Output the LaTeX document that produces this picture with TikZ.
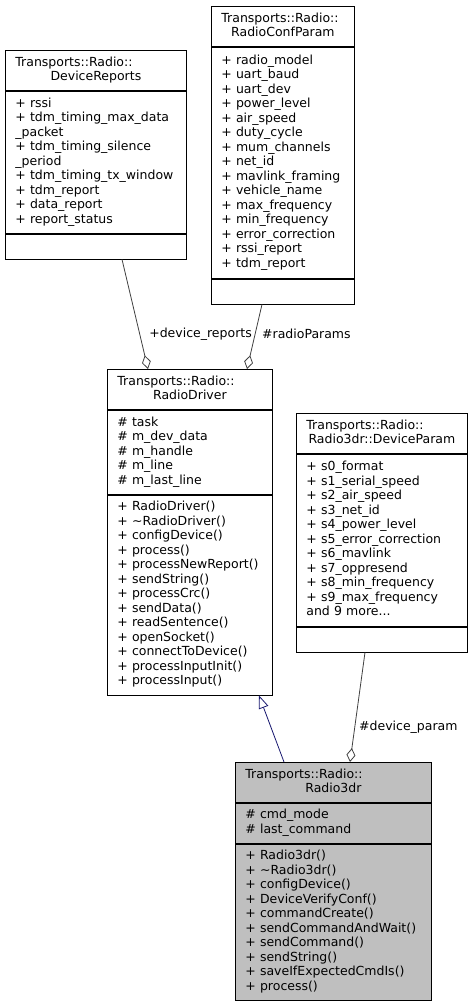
\documentclass[tikz,border=0pt]{standalone}
\usepackage{fontspec}
\setmainfont{DejaVu Sans}
\usepackage{xcolor}
\usepackage{tikz}
\usetikzlibrary{arrows.meta,positioning}
\definecolor{umlink}{HTML}{000000}
\definecolor{umledge}{HTML}{404040}
\definecolor{umlinherit}{HTML}{191970}
\definecolor{umlself}{HTML}{BFBFBF}
\newcommand{\umlfont}{\fontsize{12.5}{14.5}\selectfont}
\newcommand{\cname}[1]{Transports::Radio::\\\makebox[\hsize]{#1}}

\begin{document}
\begin{tikzpicture}[
  x=1pt,y=-1pt,
  every node/.style={font=\umlfont},
  sect/.style={draw=umlink,fill=white,line width=0.8pt,anchor=north west,
               inner xsep=10pt,inner ysep=0pt,align=left,
               execute at begin node=\strut,execute at end node=\strut},
  self/.style={sect,fill=umlself},
  agg/.style={-{Diamond[open,length=14pt,width=9pt]},line width=0.8pt,color=umledge},
  inherit/.style={-{Triangle[open,length=13pt,width=10pt]},line width=0.8pt,color=umlinherit},
  lbl/.style={inner sep=0pt}
]
\useasboundingbox (0,0) rectangle (472,1005);

% DeviceReports
\node[sect,text width=161pt,minimum height=40pt] (drT) at (5,50) {\cname{DeviceReports}};
\node[sect,text width=161pt,minimum height=142pt] (drA) at (drT.south west)
  {+~rssi\\+~tdm\_timing\_max\_data\\\_packet\\+~tdm\_timing\_silence\\\_period\\
   +~tdm\_timing\_tx\_window\\+~tdm\_report\\+~data\_report\\+~report\_status};
\node[sect,text width=161pt,minimum height=25pt] (drM) at (drA.south west) {};

% RadioConfParam
\node[sect,text width=123pt,minimum height=40pt] (rcT) at (211,6) {\cname{RadioConfParam}};
\node[sect,text width=123pt,minimum height=231pt] (rcA) at (rcT.south west)
  {+~radio\_model\\+~uart\_baud\\+~uart\_dev\\+~power\_level\\+~air\_speed\\
   +~duty\_cycle\\+~mum\_channels\\+~net\_id\\+~mavlink\_framing\\+~vehicle\_name\\
   +~max\_frequency\\+~min\_frequency\\+~error\_correction\\+~rssi\_report\\+~tdm\_report};
\node[sect,text width=123pt,minimum height=25pt] (rcM) at (rcA.south west) {};

% RadioDriver
\node[sect,text width=145pt,minimum height=40pt] (rdT) at (107,369) {\cname{RadioDriver}};
\node[sect,text width=145pt,minimum height=84pt] (rdA) at (rdT.south west)
  {\#~task\\\#~m\_dev\_data\\\#~m\_handle\\\#~m\_line\\\#~m\_last\_line};
\node[sect,text width=145pt,minimum height=200pt] (rdM) at (rdA.south west)
  {+~RadioDriver()\\+~\textasciitilde RadioDriver()\\+~configDevice()\\+~process()\\
   +~processNewReport()\\+~sendString()\\+~processCrc()\\+~sendData()\\
   +~readSentence()\\+~openSocket()\\+~connectToDevice()\\+~processInputInit()\\
   +~processInput()};

% Radio3dr::DeviceParam
\node[sect,text width=151pt,minimum height=40pt] (dpT) at (296,413) {\cname{Radio3dr::DeviceParam}};
\node[sect,text width=151pt,minimum height=172pt] (dpA) at (dpT.south west)
  {+~s0\_format\\+~s1\_serial\_speed\\+~s2\_air\_speed\\+~s3\_net\_id\\
   +~s4\_power\_level\\+~s5\_error\_correction\\+~s6\_mavlink\\+~s7\_oppresend\\
   +~s8\_min\_frequency\\+~s9\_max\_frequency\\and~9~more...};
\node[sect,text width=151pt,minimum height=25pt] (dpM) at (dpA.south west) {};

% Radio3dr
\node[self,text width=176pt,minimum height=40pt] (r3T) at (235,762) {\cname{Radio3dr}};
\node[self,text width=176pt,minimum height=40pt] (r3A) at (r3T.south west)
  {\#~cmd\_mode\\\#~last\_command};
\node[self,text width=176pt,minimum height=156pt] (r3M) at (r3A.south west)
  {+~Radio3dr()\\+~\textasciitilde Radio3dr()\\+~configDevice()\\+~DeviceVerifyConf()\\
   +~commandCreate()\\+~sendCommandAndWait()\\+~sendCommand()\\+~sendString()\\
   +~saveIfExpectedCmdIs()\\+~process()};

% relations
\draw[agg] ([xshift=117pt]drM.south west) -- ([xshift=41pt]rdT.north west);
\draw[agg] ([xshift=51pt]rcM.south west) -- ([xshift=140pt]rdT.north west);
\draw[agg] ([xshift=69pt]dpM.south west) -- ([xshift=115pt]r3T.north west);
\draw[inherit] ([xshift=49pt]r3T.north west) -- ([xshift=152pt]rdM.south west);

\node[lbl,anchor=east] (lDr) at (252,334) {+device\_reports};
\node[lbl,anchor=west] (lRc) at (262,334) {\#radioParams};
\node[lbl,anchor=west] (lDp) at (359,727) {\#device\_param};
\end{tikzpicture}
\end{document}
